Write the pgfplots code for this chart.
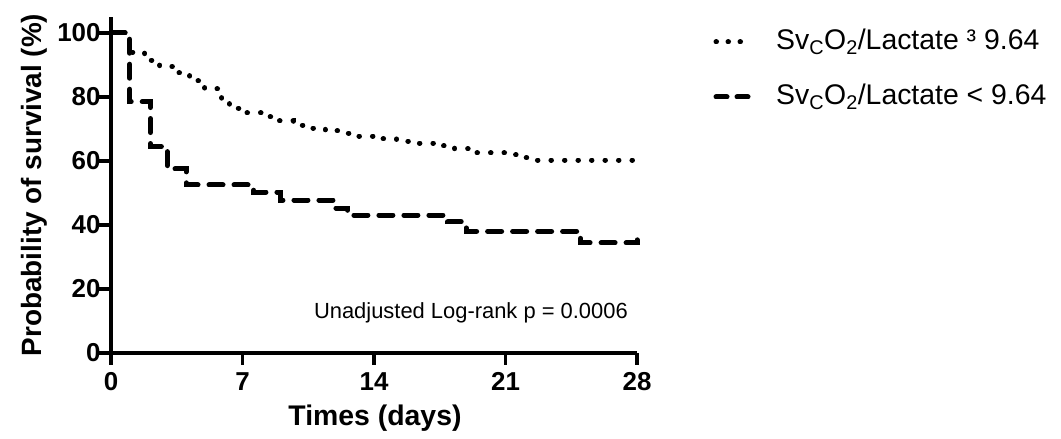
\documentclass[border=0pt]{standalone}
\usepackage{fontspec}
\setmainfont{Liberation Sans}
\usepackage{pgfplots}
\pgfplotsset{compat=1.18}

\tikzset{
  kmdot/.style={line width=5bp, line cap=round, dash pattern=on 0.5bp off 13bp},
  kmdash/.style={line width=5bp, line cap=round, dash pattern=on 14bp off 11bp},
}

\begin{document}
\begin{tikzpicture}[x=1bp,y=1bp]
\useasboundingbox (0,0) rectangle (1061,439);
\begin{axis}[
    at={(111bp,86bp)}, anchor=south west,
    scale only axis,
    width=526bp, height=336bp,
    xmin=0, xmax=28,
    ymin=0, ymax=105,
    axis lines=left,
    axis line style={-, line width=3.5bp},
    xtick={0,7,14,21,28},
    ytick={0,20,...,100},
    tick align=outside,
    major tick length=12bp,
    tick style={line width=3.5bp, black},
    tick label style={font=\fontsize{26}{26}\selectfont\bfseries},
    xticklabel style={yshift=-4bp},
    yticklabel style={xshift=5bp},
    /pgf/number format/assume math mode=true,
    clip=false,
    ]
    % SvcO2/Lactate >= 9.64 (last point: censor tick at day 28)
    \addplot[kmdot, const plot] coordinates {
      (0,100) (1,94) (1.8,91.5) (2.6,89.5) (3.4,87.5) (4.2,85) (5.0,82.5)
      (5.9,78.5) (6.3,76.5) (7.2,75) (8.2,73.8) (8.9,72.5) (9.7,71.2)
      (10.4,70.3) (11.4,69.4) (12.3,68.7) (13.1,67.8) (14.2,66.9)
      (15.2,66.2) (15.9,65.6) (17.3,64.7) (18.3,63.8) (19.1,62.5)
      (21.0,61.9) (21.8,61) (22.4,60.3) (28,60.3) (28,62.5)
    };
    % SvcO2/Lactate < 9.64
    \addplot[kmdash, const plot] coordinates {
      (0,100) (1,78.5) (2.1,64.5) (3.0,57.5) (4.0,52.5) (7.6,50.3)
      (9.0,47.8) (11.9,45.3) (12.6,43.1) (17.9,41) (18.9,38) (25,34.4)
      (28,34.4) (28,36.5)
    };
\end{axis}

% axis titles
\node[rotate=90, font=\fontsize{28}{28}\selectfont\bfseries] at (34,254) {Probability of survival (\%)};
\node[font=\fontsize{28.5}{28}\selectfont\bfseries] at (375,21) {Times (days)};

% annotation
\node[anchor=east, inner sep=0, font=\fontsize{22}{22}\selectfont] at (628,126) {Unadjusted Log-rank p = 0.0006};

% legend
\draw[line width=5bp, line cap=round, dash pattern=on 0.5bp off 11.5bp] (716,397) -- (740.6,397);
\draw[line width=5bp, line cap=round, dash pattern=on 11bp off 10bp] (716,342) -- (748,342);
\node[anchor=west, inner sep=0, font=\fontsize{28.5}{29}\selectfont] at (776,397) {Sv\textsubscript{C}O\textsubscript{2}/Lactate ³ 9.64};
\node[anchor=west, inner sep=0, font=\fontsize{28.5}{29}\selectfont] at (776,342) {Sv\textsubscript{C}O\textsubscript{2}/Lactate < 9.64};
\end{tikzpicture}
\end{document}
